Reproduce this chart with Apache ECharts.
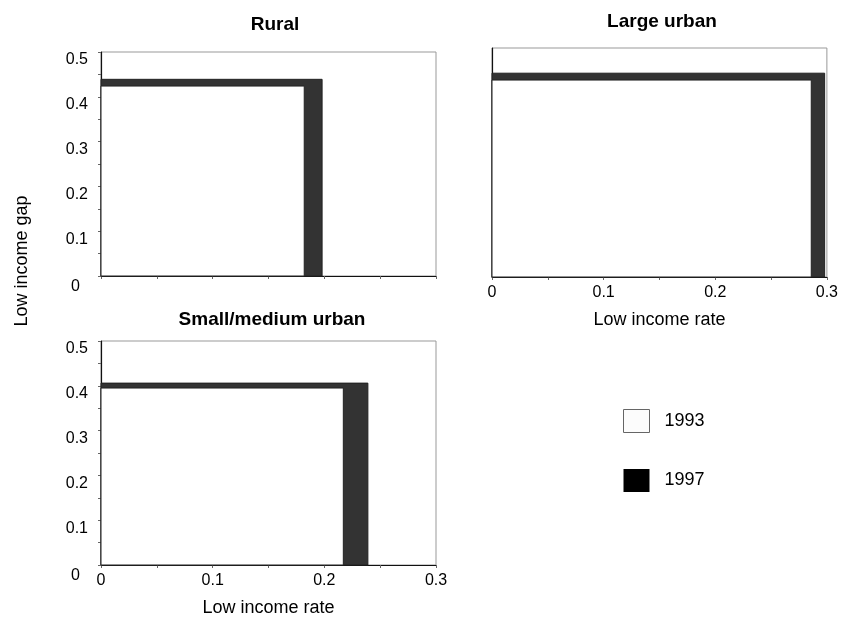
<!DOCTYPE html>
<html>
<head>
<meta charset="utf-8">
<script src="https://cdn.jsdelivr.net/npm/echarts@6/dist/echarts.min.js"></script>
<style>
  html, body { margin: 0; padding: 0; background: #fff; }
  #main { width: 841px; height: 620px; }
</style>
</head>
<body>
<div id="main"></div>
<script>
// low income rate (x) and low income gap (y), per region
var regions = ['Rural', 'Large urban', 'Small/medium urban'];
var rate93 = [0.182, 0.286, 0.217];
var gap93  = [0.424, 0.430, 0.395];
var rate97 = [0.198, 0.298, 0.239];
var gap97  = [0.439, 0.445, 0.406];

var rateTicks = [0, 0.1, 0.2, 0.3];
var gapTicks = [0, 0.1, 0.2, 0.3, 0.4, 0.5];

var myChart = echarts.init(document.getElementById('main'));

var fontFam = 'Liberation Sans, Arial, sans-serif';

// rectangle from the origin to (rate, gap)
function rectItem(params, api) {
    var p0 = api.coord([0, api.value(1)]);
    var p1 = api.coord([api.value(0), 0]);
    return {
        type: 'rect',
        shape: { x: p0[0], y: p0[1], width: p1[0] - p0[0], height: p1[1] - p0[1] },
        style: { fill: api.visual('color'), stroke: '#222', lineWidth: 1 }
    };
}

var grids = [
    { left: 101, top: 52, width: 335, height: 224 },
    { left: 492, top: 48, width: 336, height: 229 },
    { left: 101, top: 341, width: 335, height: 224 }
];
var titlePos = [[275, 15], [662, 12], [272, 310]];

var xAxes = [], yAxes = [], series = [], titles = [];
for (var i = 0; i < regions.length; i++) {
    grids[i].show = true;
    grids[i].borderColor = '#999';
    grids[i].borderWidth = 1;
    grids[i].backgroundColor = '#fff';

    titles.push({
        text: regions[i],
        left: titlePos[i][0],
        top: titlePos[i][1],
        textAlign: 'center',
        padding: 0,
        textStyle: { fontFamily: fontFam, fontSize: 19, fontWeight: 'bold', color: '#000' }
    });

    xAxes.push({
        type: 'value',
        gridIndex: i,
        min: rateTicks[0],
        max: rateTicks[rateTicks.length - 1],
        interval: 0.1,
        name: i === 0 ? '' : 'Low income rate',
        nameLocation: 'middle',
        nameGap: 34,
        nameTextStyle: { fontFamily: fontFam, fontSize: 18, color: '#000' },
        axisLine: { show: true, onZero: false, lineStyle: { color: '#111', width: 1.2 } },
        axisTick: { show: true, length: 3, lineStyle: { color: '#666' } },
        minorTick: { show: true, splitNumber: 2, length: 3, lineStyle: { color: '#666' } },
        axisLabel: { show: i !== 0, margin: 8, fontFamily: fontFam, fontSize: 16, color: '#000' },
        splitLine: { show: false }
    });

    yAxes.push({
        type: 'value',
        gridIndex: i,
        min: gapTicks[0],
        max: gapTicks[gapTicks.length - 1],
        interval: 0.1,
        axisLine: { show: true, onZero: false, lineStyle: { color: '#111', width: 1.2 } },
        axisTick: { show: i !== 1, length: 3, lineStyle: { color: '#666' } },
        minorTick: { show: i !== 1, splitNumber: 2, length: 3, lineStyle: { color: '#666' } },
        axisLabel: {
            show: i !== 1,
            margin: 13,
            verticalAlign: 'top',
            fontFamily: fontFam,
            fontSize: 16,
            color: '#000',
            formatter: function (v) {
                return v === 0 ? '{z|0}' : String(v);
            },
            rich: { z: { fontFamily: fontFam, fontSize: 16, color: '#000', padding: [3, 8, 0, 0] } }
        },
        splitLine: { show: false }
    });

    series.push({
        name: '1997',
        type: 'custom',
        xAxisIndex: i,
        yAxisIndex: i,
        renderItem: rectItem,
        itemStyle: { color: '#333' },
        encode: { x: 0, y: 1 },
        data: [[rate97[i], gap97[i]]],
        z: 2
    });
    series.push({
        name: '1993',
        type: 'custom',
        xAxisIndex: i,
        yAxisIndex: i,
        renderItem: rectItem,
        itemStyle: { color: '#fff' },
        encode: { x: 0, y: 1 },
        data: [[rate93[i], gap93[i]]],
        z: 3
    });
}

option = {
    backgroundColor: '#fff',
    animation: false,
    title: titles,
    grid: grids,
    xAxis: xAxes,
    yAxis: yAxes,
    legend: {
        orient: 'vertical',
        left: 623,
        top: 409,
        padding: 0,
        itemWidth: 26,
        itemHeight: 23,
        itemGap: 36,
        icon: 'rect',
        textStyle: { fontFamily: fontFam, fontSize: 18, color: '#000', padding: [0, 0, 0, 10] },
        data: [
            { name: '1993', itemStyle: { color: '#fcfcfc', borderColor: '#666', borderWidth: 1 } },
            { name: '1997', itemStyle: { color: '#000', borderWidth: 0 } }
        ]
    },
    graphic: [{
        type: 'text',
        x: 22,
        y: 261,
        rotation: Math.PI / 2,
        style: {
            text: 'Low income gap',
            fontFamily: fontFam,
            fontSize: 18,
            fill: '#000',
            align: 'center',
            verticalAlign: 'middle'
        }
    }],
    series: series
};

myChart.setOption(option);
</script>
</body>
</html>
